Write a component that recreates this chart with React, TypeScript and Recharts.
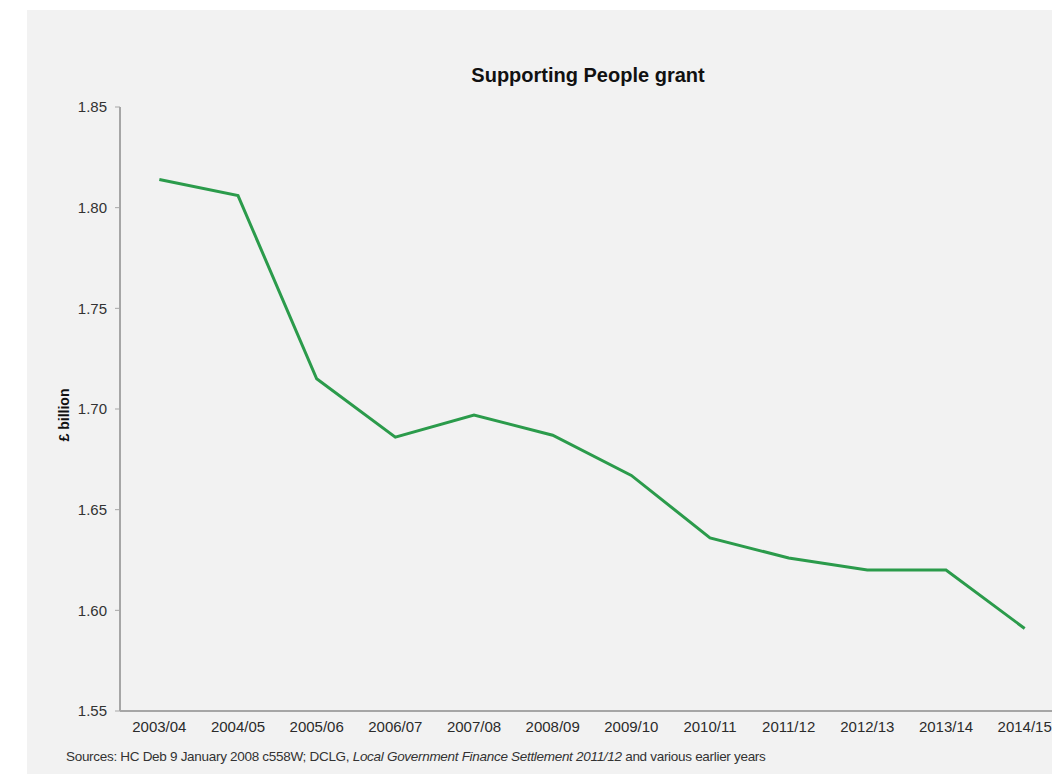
import { Line, LineChart, XAxis, YAxis } from "recharts";

const years = [
  "2003/04",
  "2004/05",
  "2005/06",
  "2006/07",
  "2007/08",
  "2008/09",
  "2009/10",
  "2010/11",
  "2011/12",
  "2012/13",
  "2013/14",
  "2014/15",
];
const grant = [1.814, 1.806, 1.715, 1.686, 1.697, 1.687, 1.667, 1.636, 1.626, 1.62, 1.62, 1.591];
const yTicks = [1.55, 1.6, 1.65, 1.7, 1.75, 1.8, 1.85];
const edgeTicks = [0, 1, 2, 3, 4, 5, 6, 7, 8, 9, 10, 11, 12];

const data = years.map((year, i) => ({ year, amount: grant[i] }));

const font = '"Liberation Sans", Arial, sans-serif';
const axisGrey = "#a6a6a6";

export default function App() {
  return (
    <div
      style={{
        position: "absolute",
        left: 0,
        top: 0,
        width: 1052,
        height: 774,
        overflow: "hidden",
        background: "#ffffff",
        fontFamily: font,
      }}
    >
      <div
        style={{
          position: "absolute",
          left: 27,
          top: 10,
          right: 0,
          bottom: 0,
          background: "#f2f2f2",
        }}
      />
      <div
        style={{
          position: "absolute",
          left: 388,
          width: 400,
          top: 63,
          textAlign: "center",
          fontSize: 20,
          fontWeight: "bold",
          color: "#111",
          lineHeight: "24px",
        }}
      >
        Supporting People grant
      </div>
      <div
        style={{
          position: "absolute",
          left: 64,
          top: 415,
          transform: "translate(-50%, -50%) rotate(-90deg)",
          fontSize: 14,
          fontWeight: "bold",
          color: "#111",
          whiteSpace: "nowrap",
        }}
      >
        £ billion
      </div>
      <div style={{ position: "absolute", left: 0, top: 0 }}>
        <LineChart
          width={1100}
          height={774}
          data={data}
          margin={{ top: 107, right: 36, bottom: 33, left: 60 }}
        >
          <XAxis
            xAxisId="edges"
            type="number"
            domain={[0, 12]}
            ticks={edgeTicks}
            tick={false}
            tickLine={{ stroke: axisGrey }}
            tickSize={4}
            axisLine={false}
            height={0}
          />
          <XAxis
            xAxisId="cat"
            dataKey="year"
            scale="band"
            interval={0}
            axisLine={{ stroke: axisGrey, strokeWidth: 2 }}
            tickLine={false}
            tickSize={6}
            tickMargin={4}
            height={30}
            tick={{ fill: "#2b2b2b", fontSize: 15, fontFamily: font }}
          />
          <YAxis
            domain={[1.55, 1.85]}
            ticks={yTicks}
            width={60}
            axisLine={{ stroke: axisGrey, strokeWidth: 2 }}
            tickLine={{ stroke: axisGrey }}
            tickSize={5}
            tickMargin={8}
            tickFormatter={(v) => v.toFixed(2)}
            tick={{ fill: "#333333", fontSize: 15, fontFamily: font }}
          />
          <Line
            xAxisId="cat"
            dataKey="amount"
            stroke="#2b9b4b"
            strokeWidth={3}
            dot={false}
            isAnimationActive={false}
          />
        </LineChart>
      </div>
      <div
        style={{
          position: "absolute",
          left: 66,
          top: 749,
          fontSize: 13.5,
          color: "#333",
          whiteSpace: "nowrap",
          letterSpacing: -0.3,
        }}
      >
        Sources: HC Deb 9 January 2008 c558W; DCLG, <i>Local Government Finance Settlement 2011/12</i> and
        various earlier years
      </div>
    </div>
  );
}
